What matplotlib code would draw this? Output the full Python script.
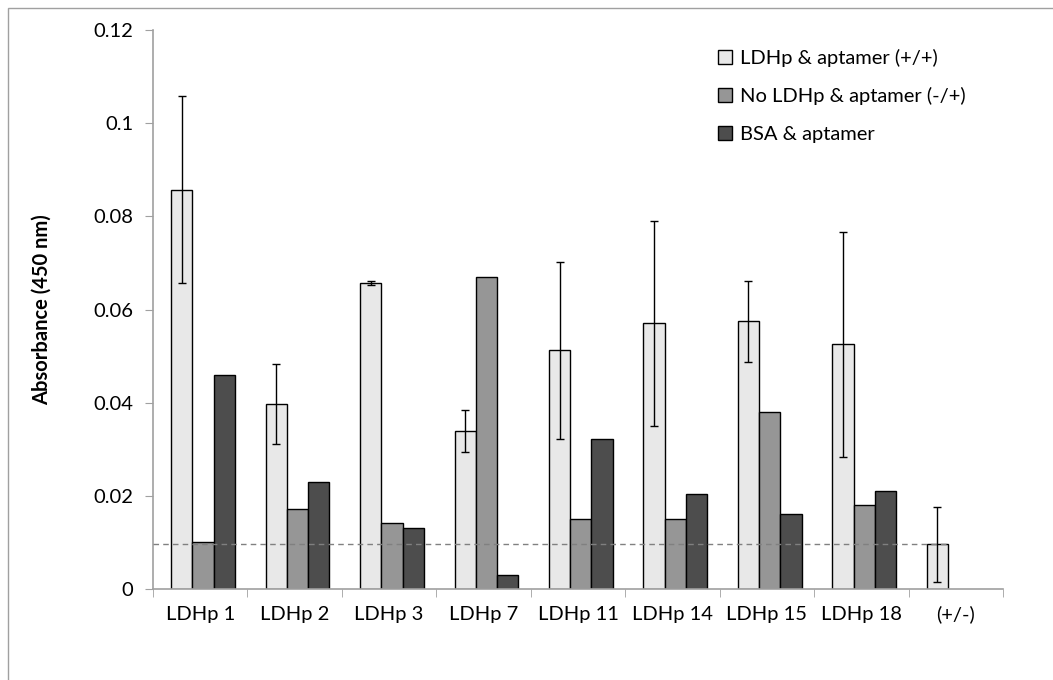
import numpy as np
import matplotlib
matplotlib.use("Agg")
import matplotlib.pyplot as plt
from matplotlib.patches import Rectangle

plt.rcParams['font.family'] = ['Lato', 'DejaVu Sans']

categories = ["LDHp 1", "LDHp 2", "LDHp 3", "LDHp 7", "LDHp 11", "LDHp 14", "LDHp 15", "LDHp 18", "(+/-)"]
series_names = ["LDHp & aptamer (+/+)", "No LDHp & aptamer (-/+)", "BSA & aptamer"]

ldhp_apt = [0.0857, 0.0398, 0.0657, 0.0339, 0.0512, 0.0570, 0.0575, 0.0525, 0.0096]
ldhp_apt_err = [0.0201, 0.0086, 0.0005, 0.0045, 0.0190, 0.0220, 0.0087, 0.0241, 0.0081]
no_ldhp_apt = [0.0100, 0.0171, 0.0141, 0.0670, 0.0150, 0.0150, 0.0379, 0.0180, np.nan]
bsa_apt = [0.0460, 0.0230, 0.0130, 0.0030, 0.0321, 0.0205, 0.0160, 0.0210, np.nan]
cutoff = 0.0097

colors = ["#e8e8e8", "#969696", "#4d4d4d"]

fig = plt.figure(figsize=(10.53, 6.8), dpi=100)
ax = fig.add_axes([0.1453, 0.1338, 0.8072, 0.8221])

x = np.arange(len(categories))
w = 0.225
shift = 0.03
ax.bar(x - w + shift, ldhp_apt, w, color=colors[0], edgecolor="black", linewidth=1,
       yerr=ldhp_apt_err, error_kw=dict(ecolor="black", elinewidth=1, capsize=3, capthick=1),
       label=series_names[0], zorder=2)
ax.bar(x + shift, no_ldhp_apt, w, color=colors[1], edgecolor="black", linewidth=1,
       label=series_names[1], zorder=2)
ax.bar(x + w + shift, bsa_apt, w, color=colors[2], edgecolor="black", linewidth=1,
       label=series_names[2], zorder=2)

# dashed cut-off line up to the (+/-) bar
ax.plot([-0.5, x[-1] + shift - w / 2 + 0.02], [cutoff, cutoff], linestyle=(0, (4, 3)),
        color="#808080", linewidth=1, zorder=3)

ax.set_xlim(-0.5, len(categories) - 0.5)
ax.set_ylim(0, 0.12)
ax.set_yticks([0, 0.02, 0.04, 0.06, 0.08, 0.1, 0.12])
ax.set_yticklabels(["0", "0.02", "0.04", "0.06", "0.08", "0.1", "0.12"])
ax.set_xticks(x)
ax.set_xticklabels(categories)
ax.set_xticks(np.arange(len(categories) + 1) - 0.5, minor=True)
ax.tick_params(axis="x", which="major", length=0, pad=12, labelsize=14.5)
ax.tick_params(axis="x", which="minor", length=6, color="#a0a0a0", direction="out")
ax.tick_params(axis="y", length=6, color="#a0a0a0", direction="out", pad=8, labelsize=14.5)

for s in ["top", "right"]:
    ax.spines[s].set_visible(False)
for s in ["left", "bottom"]:
    ax.spines[s].set_color("#a0a0a0")
    ax.spines[s].set_linewidth(1.2)

ax.set_ylabel("Absorbance (450 nm)", fontsize=14.5, fontweight="bold", labelpad=30)

leg = ax.legend(loc="upper left", bbox_to_anchor=(0.655, 0.98), frameon=False, fontsize=14.5,
                handlelength=0.7, handleheight=0.7, handletextpad=0.4, labelspacing=1.0,
                borderaxespad=0)

fig.patches.append(Rectangle((8 / 1053, -0.1), 1.2, (680 - 8) / 680 + 0.1,
                             transform=fig.transFigure, fill=False,
                             edgecolor="#a0a0a0", linewidth=1))

fig.savefig("out.png", dpi=100)
